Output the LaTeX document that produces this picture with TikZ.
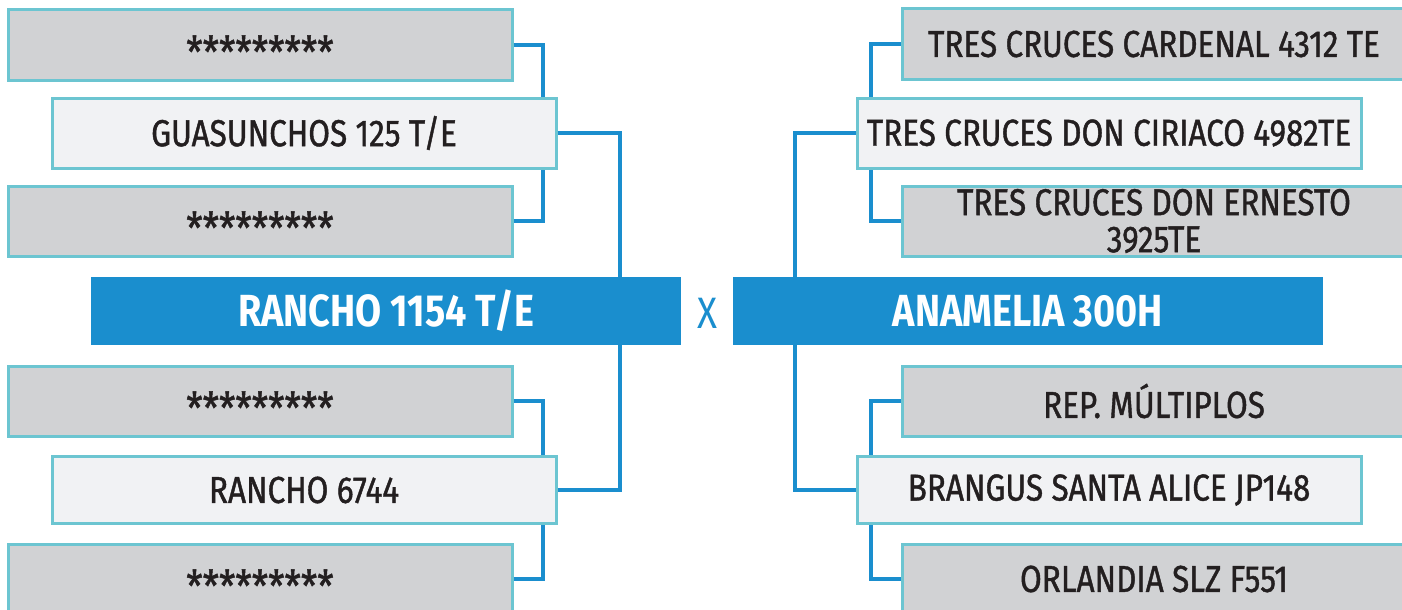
\documentclass[tikz,border=0pt]{standalone}
\usepackage{fontspec}
\setmainfont{Fira Sans}[FakeStretch=0.84]
\newfontfamily\medfont{Fira Sans}[FakeStretch=0.84, FakeBold=1.1]
\definecolor{cblue}{HTML}{1A8ECE}
\definecolor{cborder}{HTML}{6CC5D1}
\definecolor{cgray}{HTML}{D1D2D4}
\definecolor{clight}{HTML}{F1F2F4}
\definecolor{ctext}{HTML}{231F20}
\newcommand{\stars}{\smash{\raisebox{-23pt}{\fontsize{44}{44}\selectfont *********}}}
\tikzset{
  boxbase/.style={draw=cborder, line width=3pt, inner sep=0pt, text=ctext,
    font=\medfont\fontsize{37.5}{37}\selectfont, align=center},
  graybox/.style={boxbase, fill=cgray, minimum width=504pt, minimum height=70pt},
  lightbox/.style={boxbase, fill=clight, minimum width=504pt, minimum height=70pt},
  mainbox/.style={fill=cblue, text=white, inner sep=0pt, minimum width=590pt,
    minimum height=68pt, font=\fontsize{45}{45}\selectfont\bfseries},
  conn/.style={draw=cblue, line width=4.5pt}
}
\begin{document}
\begin{tikzpicture}[x=1pt,y=-1pt]
\useasboundingbox[fill=white] (0,0) rectangle (1402,610);
\coordinate (cxA) at (543,0);
\coordinate (cxB) at (620,0);
\coordinate (cxC) at (795,0);
\coordinate (cxD) at (871,0);
% left side
\node[graybox] (g1) at (260,45) {\stars};
\node[lightbox] (l1) at (304,133) {GUASUNCHOS 125 T/E};
\node[graybox] (g2) at (260,221) {\stars};
\node[mainbox] (b1) at (386,311) {RANCHO 1154 T/E};
\node[graybox] (g3) at (260,401) {\stars};
\node[lightbox, minimum height=67pt] (l2) at (304,490) {RANCHO 6744};
\node[graybox] (g4) at (260,579) {\stars};
% centre
\node[text=cblue, font=\fontsize{44}{44}\selectfont, inner sep=0pt] (xx) at (707,313) {X};
% right side
\node[graybox] (r1) at (1154,44) {TRES CRUCES CARDENAL 4312 TE};
\node[lightbox] (m1) at (1109,133) {TRES CRUCES DON CIRIACO 4982TE};
\node[graybox] (r2) at (1154,221) {TRES CRUCES DON ERNESTO\\3925TE};
\node[mainbox] (b2) at (1028,311) {ANAMELIA 300H};
\node[graybox] (r3) at (1154,401) {REP. MÚLTIPLOS};
\node[lightbox, minimum height=67pt] (m2) at (1109,490) {BRANGUS SANTA ALICE JP148};
\node[graybox] (r4) at (1154,579) {ORLANDIA SLZ F551};
% connectors left
\draw[conn] (g1.east) -| (l1.north -| cxA);
\draw[conn] (g2.east) -| (l1.south -| cxA);
\draw[conn] (g3.east) -| (l2.north -| cxA);
\draw[conn] (g4.east) -| (l2.south -| cxA);
\draw[conn] (l1.east) -| (b1.north -| cxB);
\draw[conn] (l2.east) -| (b1.south -| cxB);
% connectors right
\draw[conn] (r1.west) -| (m1.north -| cxD);
\draw[conn] (r2.west) -| (m1.south -| cxD);
\draw[conn] (r3.west) -| (m2.north -| cxD);
\draw[conn] (r4.west) -| (m2.south -| cxD);
\draw[conn] (m1.west) -| (b2.north -| cxC);
\draw[conn] (m2.west) -| (b2.south -| cxC);
\end{tikzpicture}
\end{document}
